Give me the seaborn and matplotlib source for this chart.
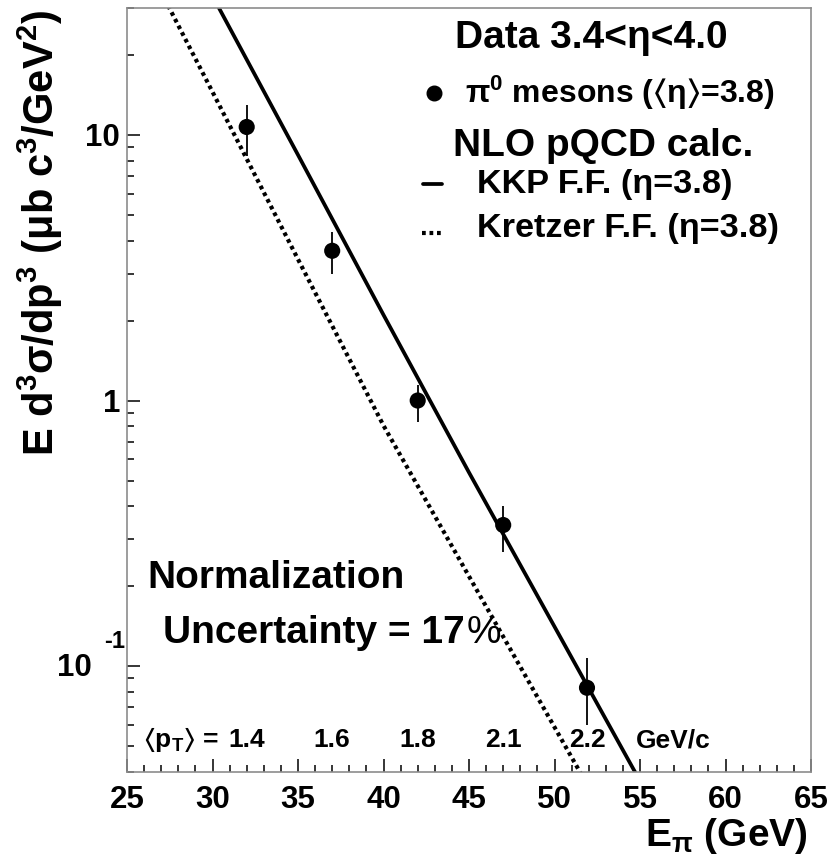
import numpy as np
import pandas as pd
import matplotlib
matplotlib.use("Agg")
import matplotlib.pyplot as plt
import matplotlib.transforms as mtransforms
from matplotlib.lines import Line2D
from matplotlib.ticker import LogLocator, NullFormatter, MultipleLocator, FixedLocator, FixedFormatter
import seaborn as sns

# ---------------- data ----------------
energy = [32.0, 37.0, 42.0, 47.0, 51.9]
xsec = [10.7, 3.66, 1.0, 0.34, 0.083]
xsec_hi = [13.0, 4.3, 1.14, 0.40, 0.107]
xsec_lo = [8.3, 3.0, 0.83, 0.27, 0.060]
pt_mean = ["1.4", "1.6", "1.8", "2.1", "2.2"]

kkp_energy = [30, 35, 40, 45, 50, 55]
kkp_xsec = [33.3, 8.4, 2.1, 0.536, 0.141, 0.037]
kretzer_energy = [27, 30, 35, 40, 45, 50, 52]
kretzer_xsec = [34.4, 14.5, 3.4, 0.805, 0.218, 0.059, 0.035]

# ---------------- style ----------------
sns.set_theme(style="white")
plt.rcParams.update({
    "font.family": ["Liberation Sans", "DejaVu Sans"],
    "font.weight": "bold",
    "mathtext.fontset": "custom",
    "mathtext.rm": "Liberation Sans:bold",
    "mathtext.it": "Liberation Sans:bold",
    "mathtext.bf": "Liberation Sans:bold",
    "mathtext.sf": "Liberation Sans:bold",
    "mathtext.default": "rm",
    "mathtext.fallback": "stixsans",
    "axes.edgecolor": "#8c8c8c",
    "axes.linewidth": 1.2,
    "text.color": "black",
    "axes.labelcolor": "black",
    "xtick.color": "black",
    "ytick.color": "black",
})

W, H = 834, 860
fig = plt.figure(figsize=(W / 100, H / 100), dpi=100)
fig.patch.set_facecolor("white")


def P(x, y):
    return (x / W, 1 - y / H)


ax = fig.add_axes([127 / W, 1 - 772 / H, (811 - 127) / W, (772 - 8) / H])
ax.set_facecolor("white")

df_data = pd.DataFrame({"E": energy, "y": xsec, "lo": xsec_lo, "hi": xsec_hi})
df_kkp = pd.DataFrame({"E": kkp_energy, "y": kkp_xsec})
df_kre = pd.DataFrame({"E": kretzer_energy, "y": kretzer_xsec})

dot_style = (0, (0.9, 0.9))
sns.lineplot(data=df_kkp, x="E", y="y", ax=ax, color="black", lw=2.7,
             linestyle="-", legend=False)
sns.lineplot(data=df_kre, x="E", y="y", ax=ax, color="black", lw=3.0,
             linestyle=dot_style, legend=False)
ax.vlines(df_data["E"], df_data["lo"], df_data["hi"], color="black", lw=1.3, zorder=4)
sns.scatterplot(data=df_data, x="E", y="y", ax=ax, color="black", s=135,
                edgecolor="none", zorder=5, legend=False)

ax.set_yscale("log")
ax.set_xlim(25, 65)
ax.set_ylim(0.04, 30)
ax.set_xlabel("")
ax.set_ylabel("")

ax.xaxis.set_major_locator(MultipleLocator(5))
ax.xaxis.set_minor_locator(MultipleLocator(1))
ax.yaxis.set_major_locator(FixedLocator([0.1, 1, 10]))
ax.yaxis.set_major_formatter(FixedFormatter(["", "1", "10"]))
ax.yaxis.set_minor_locator(LogLocator(base=10, subs=np.arange(2, 10)))
ax.yaxis.set_minor_formatter(NullFormatter())

ax.tick_params(which="both", direction="in", top=False, right=False,
               left=True, bottom=True, color="black", width=1.1)
ax.tick_params(which="major", length=9.4)
ax.tick_params(which="minor", length=4.7)
ax.tick_params(axis="x", which="major", labelsize=22.5, pad=9, labelcolor="black")
ax.tick_params(axis="y", which="major", labelsize=22.5, pad=5, labelcolor="black")
for lab in ax.get_xticklabels() + ax.get_yticklabels():
    lab.set_fontweight("bold")
ax.grid(False)

# 10^-1 label (ROOT style)
fig.text(*P(92, 668), "10", ha="right", va="center", fontsize=22.5, fontweight="bold")
fig.text(*P(125, 642), "-1", ha="right", va="center", fontsize=17, fontweight="bold")

# axis titles
fig.text(*P(808, 836), r"E$_{π}$ (GeV)", ha="right", va="center", fontsize=28,
         fontweight="bold")
fig.text(*P(40, 10), r"E d$^{3}$σ/dp$^{3}$ (μb c$^{3}$/GeV$^{2}$)", ha="center",
         va="top", rotation=90, fontsize=30, fontweight="bold")

# legend block
fig.text(*P(455, 38), "Data 3.4<η<4.0", ha="left", va="center", fontsize=28,
         fontweight="bold")
fig.text(*P(465, 93), r"π$^{0}$ mesons ($\langle$η$\rangle$=3.8)", ha="left",
         va="center", fontsize=23, fontweight="bold")
fig.text(*P(453, 146), "NLO pQCD calc.", ha="left", va="center", fontsize=28,
         fontweight="bold")
fig.text(*P(477, 184), "KKP F.F. (η=3.8)", ha="left", va="center", fontsize=24.7,
         fontweight="bold")
fig.text(*P(477, 229), "Kretzer F.F. (η=3.8)", ha="left", va="center", fontsize=24.7,
         fontweight="bold")
fig.add_artist(Line2D([P(434, 93)[0]], [P(434, 93)[1]], marker="o", ms=10.5,
                      color="black", transform=fig.transFigure))
fig.add_artist(Line2D([P(423, 0)[0], P(442, 0)[0]], [P(0, 184)[1]] * 2, lw=2.7,
                      color="black", transform=fig.transFigure))
fig.add_artist(Line2D([P(422, 0)[0], P(443, 0)[0]], [P(0, 233)[1]] * 2, lw=3.0,
                      linestyle=dot_style, color="black", transform=fig.transFigure))

# normalization text
fig.text(*P(147, 578), "Normalization", ha="left", va="center", fontsize=28,
         fontweight="bold")
t_unc = fig.text(*P(163, 633), "Uncertainty = 17", ha="left", va="center",
                 fontsize=28, fontweight="bold")
fig.canvas.draw()
ax.annotate("%", xy=(1.0, 0.5), xycoords=t_unc, xytext=(1, 0),
            textcoords="offset points", ha="left", va="center", fontsize=28,
            fontweight="normal", color="black")

# <pT> row
trans = mtransforms.blended_transform_factory(ax.transData, ax.transAxes)
for e, lab in zip(energy, pt_mean):
    ax.text(e, 0.042, lab, transform=trans, ha="center", va="center",
            fontsize=19, fontweight="bold", color="black")
fig.text(*P(143, 740), r"$\langle$p$_{T}$$\rangle$ =", ha="left", va="center",
         fontsize=19, fontweight="bold")
fig.text(*P(636, 740), "GeV/c", ha="left", va="center", fontsize=19,
         fontweight="bold")

fig.savefig("out.png", dpi=100, facecolor="white")
